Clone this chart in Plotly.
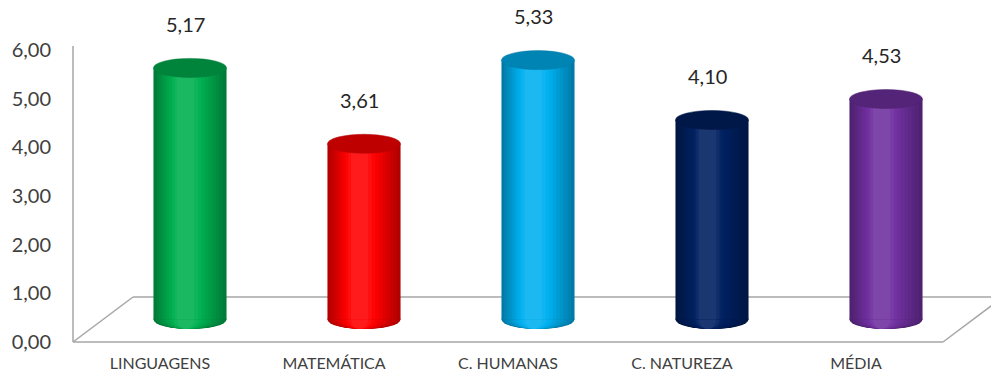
import plotly.graph_objects as go

categories = ["LINGUAGENS", "MATEMÁTICA", "C. HUMANAS", "C. NATUREZA", "MÉDIA"]
values = [5.17, 3.61, 5.33, 4.10, 4.53]
value_labels = ["5,17", "3,61", "5,33", "4,10", "4,53"]
y_tick_vals = [0, 1, 2, 3, 4, 5, 6]
y_tick_labels = ["0,00", "1,00", "2,00", "3,00", "4,00", "5,00", "6,00"]
bar_colors = ["#00B050", "#FF0000", "#00B0F0", "#002060", "#7030A0"]

FONT = "Lato"
# pixel geometry of the plot area
W, H = 991, 378
L, R, T, B = 73, 48, 50, 36
plot_w = W - L - R
plot_h = H - T - B
px_per_cat = plot_w / len(categories)
px_per_unit = plot_h / 6.0
depth_dx, depth_dy = 30, 22.5          # bar (mid-depth) offset vs front plane
dx_cat = depth_dx / px_per_cat
dy_unit = depth_dy / px_per_unit

bar_w = 0.42
ell_h = 19 / px_per_unit


def hex_rgb(h):
    h = h.lstrip("#")
    return [int(h[i:i + 2], 16) for i in (0, 2, 4)]


def mix(h, target, t):
    r = hex_rgb(h)
    return "rgb({},{},{})".format(*[round(c + (tc - c) * t) for c, tc in zip(r, target)])


n_layers = 10
layers = []
for k in range(n_layers):
    wf = 1.0 - k * 0.085
    amt = 0.30 - k * 0.045
    layers.append((wf, amt))

fig = go.Figure()
shapes = []


def px_to_paper(x, y):
    return (x - L) / plot_w, (H - B - y) / plot_h


line_col = "#A6A6A6"
fx0, fy0 = px_to_paper(L, H - B)
bx0, by0 = px_to_paper(L + 2 * depth_dx, H - B - 2 * depth_dy)
bx1, by1 = px_to_paper(W - R + 2 * depth_dx, H - B - 2 * depth_dy)
fx1, fy1 = px_to_paper(W - R, H - B)
tx, ty = px_to_paper(L, 46)
for (a, b, c, d) in [(fx0, fy0, bx0, by0), (bx0, by0, bx1, by1), (fx1, fy1, bx1, by1)]:
    shapes.append(dict(type="line", xref="paper", yref="paper", x0=a, y0=b, x1=c, y1=d,
                       line=dict(color=line_col, width=1.5), layer="below"))
for (a, b, c, d) in [(fx0, fy0, fx1, fy1), (fx0, fy0, tx, ty)]:
    shapes.append(dict(type="line", xref="paper", yref="paper", x0=a, y0=b, x1=c, y1=d,
                       line=dict(color=line_col, width=1.5), layer="above"))

for (wf, amt) in layers:
    w = bar_w * wf
    off = -bar_w / 2 + (bar_w - w) * 0.42
    if amt >= 0:
        cols = [mix(c, (0, 0, 0), amt) for c in bar_colors]
    else:
        cols = [mix(c, (255, 255, 255), -amt) for c in bar_colors]
    fig.add_trace(go.Bar(
        x=list(range(len(categories))), y=values, width=w, offset=off,
        marker=dict(color=cols, line=dict(width=0)),
        xaxis="x2", yaxis="y2", showlegend=False, hoverinfo="skip"))
    for i, col in enumerate(cols):
        shapes.append(dict(type="circle", xref="x2", yref="y2",
                           x0=i + off, x1=i + off + w, y0=-ell_h / 2, y1=ell_h / 2,
                           fillcolor=col, line=dict(width=0), layer="below"))

for i, (v, c) in enumerate(zip(values, bar_colors)):
    shapes.append(dict(type="circle", xref="x2", yref="y2",
                       x0=i - bar_w / 2, x1=i + bar_w / 2, y0=v - ell_h / 2, y1=v + ell_h / 2,
                       fillcolor=mix(c, (0, 0, 0), 0.25), line=dict(color=mix(c, (0, 0, 0), 0.3), width=0.5),
                       layer="above"))

annotations = []
for i, (v, t) in enumerate(zip(values, value_labels)):
    annotations.append(dict(x=i, y=v, xref="x2", yref="y2", text=t, showarrow=False,
                            yanchor="bottom", yshift=30, xshift=-5,
                            font=dict(family=FONT, size=20, color="#262626")))

fig.add_trace(go.Scatter(x=categories, y=[0] * len(categories), mode="markers",
                         marker=dict(opacity=0), showlegend=False, hoverinfo="skip"))

fig.update_layout(
    width=W, height=H,
    margin=dict(l=L, r=R, t=T, b=B, autoexpand=False),
    paper_bgcolor="white", plot_bgcolor="rgba(0,0,0,0)",
    barmode="overlay",
    shapes=shapes, annotations=annotations,
    xaxis=dict(type="category", range=[-0.5, len(categories) - 0.5], automargin=False,
               showgrid=False, zeroline=False, showline=False, ticks="",
               ticklabelstandoff=10,
               tickfont=dict(family=FONT, size=16, color="#404040")),
    yaxis=dict(range=[0, 6], tickvals=y_tick_vals, ticktext=y_tick_labels, automargin=False,
               showgrid=False, zeroline=False, showline=False,
               ticks="", ticklabelstandoff=21,
               tickfont=dict(family=FONT, size=20, color="#404040")),
    xaxis2=dict(overlaying="x", range=[-0.5 - dx_cat, len(categories) - 0.5 - dx_cat],
                visible=False),
    yaxis2=dict(overlaying="y", range=[-dy_unit, 6 - dy_unit], visible=False),
)

fig.write_html("out.html", config={"displayModeBar": False},
               post_script="document.body.style.margin='0';document.body.style.overflow='hidden';")
